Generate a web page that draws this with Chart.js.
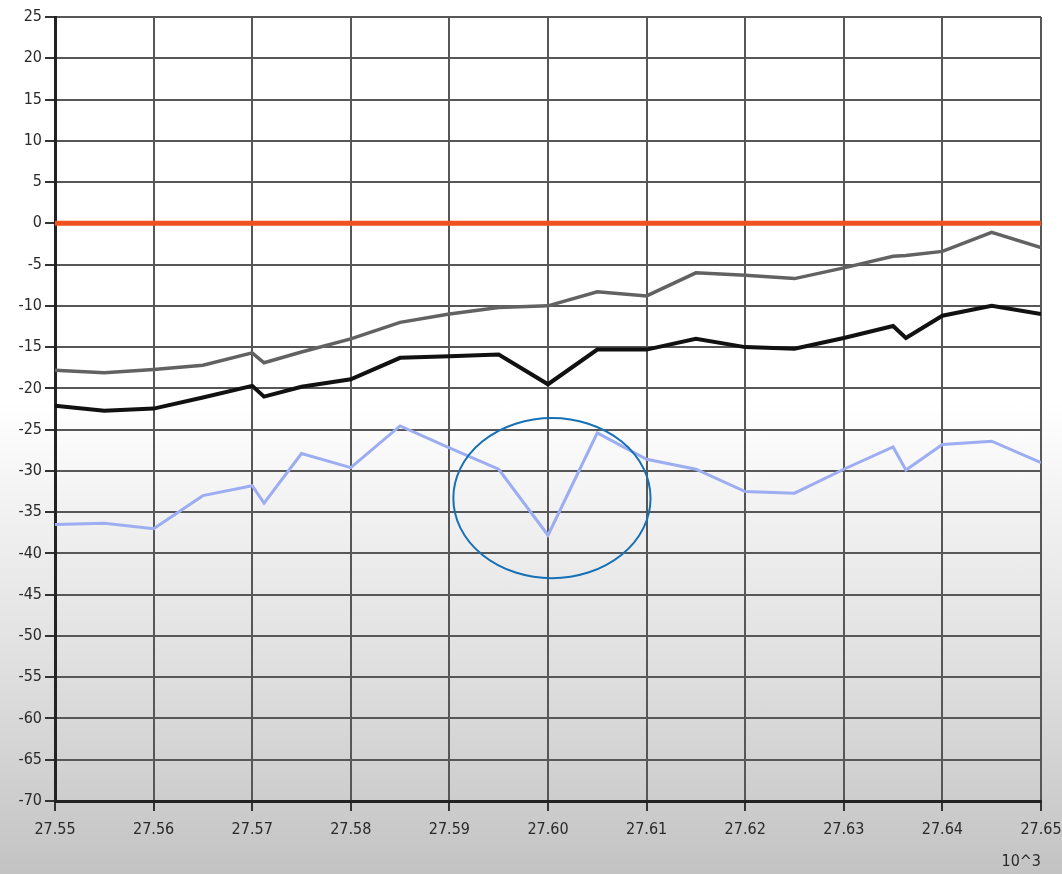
<!DOCTYPE html>
<html>
<head>
<meta charset="utf-8">
<title>Trace levels</title>
<script src="https://cdn.jsdelivr.net/npm/chart.js@4.4.1/dist/chart.umd.min.js"></script>
<style>
  html, body { margin: 0; padding: 0; }
  body {
    width: 1062px; height: 874px; overflow: hidden;
    background: linear-gradient(to bottom, #ffffff 0%, #ffffff 46%, #f2f2f2 58%, #e4e4e4 72%, #d4d4d4 86%, #c3c3c3 100%);
  }
  canvas { display: block; }
</style>
</head>
<body>
<canvas id="chart" width="1062" height="874"></canvas>
<script>
// Frequency positions (x 10^3)
const freq = [27.550, 27.555, 27.560, 27.565, 27.570, 27.5712, 27.575, 27.580, 27.585, 27.590, 27.595,
              27.600, 27.605, 27.610, 27.615, 27.620, 27.625, 27.630, 27.635, 27.6363, 27.640, 27.645, 27.650];

// Trace values
const reference = [0, 0, 0, 0, 0, 0, 0, 0, 0, 0, 0, 0, 0, 0, 0, 0, 0, 0, 0, 0, 0, 0, 0];
const upperTrace = [-17.8, -18.1, -17.7, -17.2, -15.7, -16.9, -15.6, -14.0, -12.0, -11.0, -10.2,
                    -10.0, -8.3, -8.8, -6.0, -6.3, -6.7, -5.4, -4.0, -3.9, -3.4, -1.1, -2.95];
const middleTrace = [-22.1, -22.7, -22.45, -21.1, -19.7, -21.0, -19.8, -18.9, -16.3, -16.1, -15.9,
                     -19.5, -15.3, -15.3, -14.0, -15.0, -15.2, -13.9, -12.45, -13.9, -11.2, -10.0, -11.0];
const lowerTrace = [-36.5, -36.35, -37.0, -33.0, -31.8, -33.9, -27.9, -29.6, -24.55, -27.2, -29.8,
                    -37.8, -25.4, -28.6, -29.8, -32.5, -32.7, -29.8, -27.1, -29.9, -26.8, -26.4, -29.0];

// Axis ticks
const xTicks = [27.55, 27.56, 27.57, 27.58, 27.59, 27.60, 27.61, 27.62, 27.63, 27.64, 27.65];
const yMin = -70, yMax = 25, yStep = 5;

// Ring around the dip in the lower trace (data units)
const highlight = { x: 27.6004, y: -33.3, rx: 0.0100, ry: 9.7 };

const toPoints = vals => vals.map((v, i) => ({ x: freq[i], y: v }));

const ellipsePlugin = {
  id: 'highlightRing',
  afterDatasetsDraw(chart) {
    const { ctx, scales: { x, y } } = chart;
    const cx = x.getPixelForValue(highlight.x);
    const cy = y.getPixelForValue(highlight.y);
    const rx = Math.abs(x.getPixelForValue(highlight.x + highlight.rx) - cx);
    const ry = Math.abs(y.getPixelForValue(highlight.y + highlight.ry) - cy);
    ctx.save();
    ctx.beginPath();
    ctx.ellipse(cx, cy, rx, ry, 0, 0, Math.PI * 2);
    ctx.strokeStyle = '#1670b6';
    ctx.lineWidth = 2;
    ctx.stroke();
    ctx.restore();
  }
};

const labelFont = "'DejaVu Sans Condensed', 'Liberation Sans', Arial, sans-serif";

new Chart(document.getElementById('chart'), {
  type: 'line',
  data: {
    datasets: [
      { data: toPoints(reference), borderColor: '#f0521f', borderWidth: 5 },
      { data: toPoints(upperTrace), borderColor: '#626262', borderWidth: 3.5 },
      { data: toPoints(middleTrace), borderColor: '#111111', borderWidth: 4 },
      { data: toPoints(lowerTrace), borderColor: '#9cadf2', borderWidth: 3 }
    ]
  },
  options: {
    responsive: false,
    animation: false,
    devicePixelRatio: 1,
    layout: { padding: { top: 17, right: 0, left: 0, bottom: 0 } },
    elements: {
      point: { radius: 0, hoverRadius: 0 },
      line: { tension: 0, borderCapStyle: 'butt', borderJoinStyle: 'miter' }
    },
    plugins: {
      legend: { display: false },
      tooltip: { enabled: false }
    },
    scales: {
      x: {
        type: 'linear',
        min: xTicks[0],
        max: xTicks[xTicks.length - 1],
        afterBuildTicks(scale) { scale.ticks = xTicks.map(v => ({ value: v })); },
        afterFit(scale) {
          scale.height = 73;
          scale.paddingLeft = 0;
          scale.paddingRight = 21;
        },
        ticks: {
          autoSkip: false,
          maxRotation: 0,
          padding: 9,
          color: '#2a2a2a',
          font: { family: labelFont, size: 16 },
          callback: v => Number(v).toFixed(2)
        },
        grid: { color: '#575757', lineWidth: 2, tickLength: 10, tickColor: '#333', tickWidth: 2 },
        border: { color: '#222', width: 3 },
        title: {
          display: true,
          text: '10^3',
          align: 'end',
          color: '#2a2a2a',
          font: { family: labelFont, size: 16 },
          padding: { top: 0, bottom: 3 }
        }
      },
      y: {
        min: yMin,
        max: yMax,
        afterFit(scale) { scale.width = 55; },
        ticks: {
          stepSize: yStep,
          padding: 3,
          color: '#2a2a2a',
          font: { family: labelFont, size: 16 }
        },
        grid: { color: '#575757', lineWidth: 2, tickLength: 10, tickColor: '#333', tickWidth: 2 },
        border: { color: '#222', width: 3 }
      }
    }
  },
  plugins: [ellipsePlugin]
});
</script>
</body>
</html>
